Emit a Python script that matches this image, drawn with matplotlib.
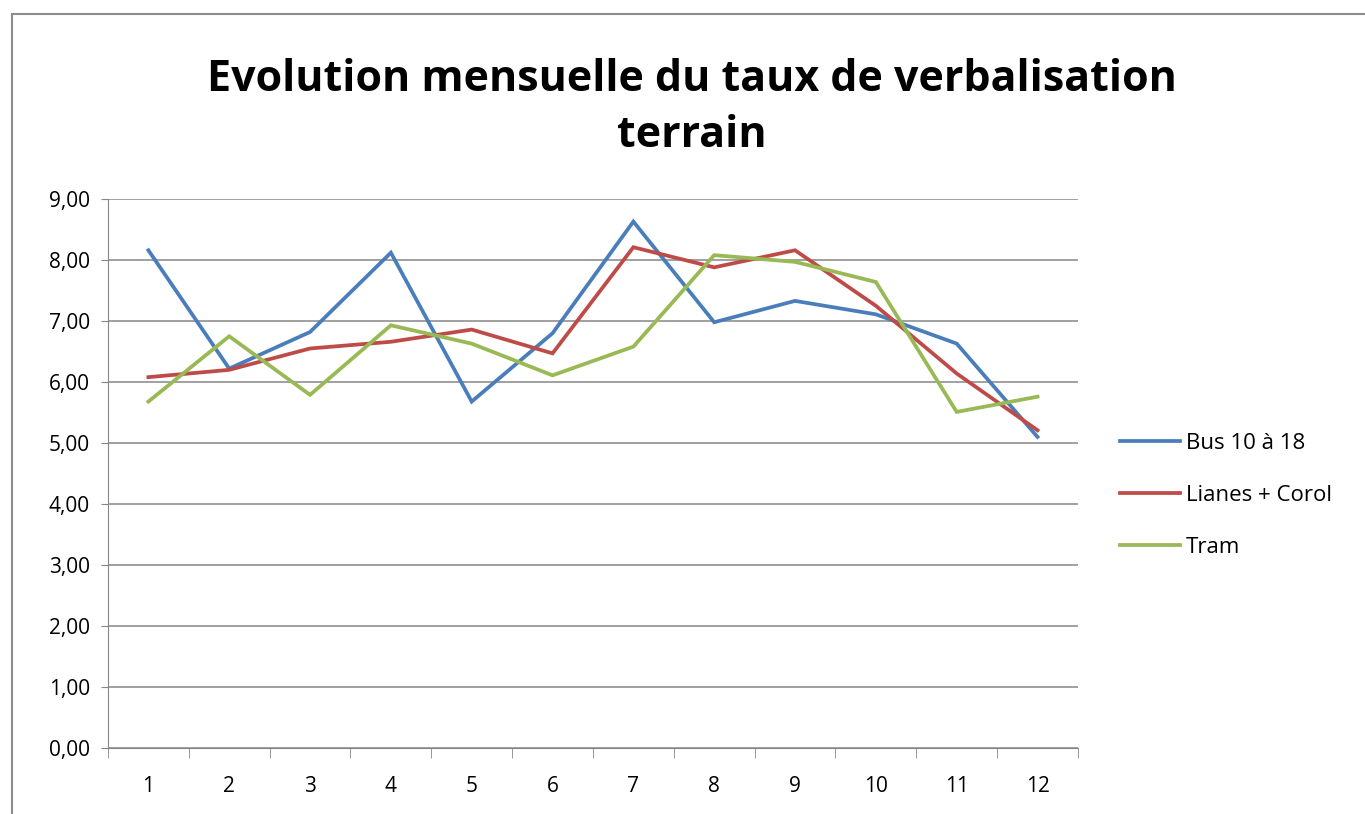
import numpy as np
import matplotlib.pyplot as plt
from matplotlib.patches import Rectangle

plt.rcParams['font.family'] = ['Open Sans', 'DejaVu Sans']

mois = [1, 2, 3, 4, 5, 6, 7, 8, 9, 10, 11, 12]
bus = [8.16, 6.22, 6.82, 8.12, 5.68, 6.80, 8.63, 6.98, 7.33, 7.11, 6.63, 5.10]
lianes = [6.08, 6.20, 6.55, 6.66, 6.86, 6.47, 8.21, 7.88, 8.16, 7.25, 6.14, 5.21]
tram = [5.68, 6.75, 5.79, 6.93, 6.63, 6.11, 6.58, 8.08, 7.97, 7.64, 5.51, 5.76]
noms = ['Bus 10 à 18', 'Lianes + Corol', 'Tram']
couleurs = ['#4A7EBB', '#BE4B48', '#98B954']
y_ticks = [0, 1, 2, 3, 4, 5, 6, 7, 8, 9]

fig = plt.figure(figsize=(13.65, 8.14), dpi=100)
ax = fig.add_axes([0.0791, 0.081, 0.7106, 0.6745])

# cadre du graphique
fig.patches.append(Rectangle((12/1365, -0.05), 1.1, 1 - 14/814 + 0.05,
                             transform=fig.transFigure, fill=False,
                             edgecolor='#8c8c8c', linewidth=1.5))

for serie, nom, c in zip([bus, lianes, tram], noms, couleurs):
    ax.plot(mois, serie, color=c, linewidth=2.7, label=nom, solid_joinstyle='miter')

ax.set_xlim(0.5, 12.5)
ax.set_ylim(0, 9)
ax.set_yticks(y_ticks)
ax.yaxis.set_major_formatter(plt.FuncFormatter(lambda v, p: ('%.2f' % v).replace('.', ',')))
ax.set_xticks(mois)
ax.set_xticklabels([str(m) for m in mois])
ax.set_xticks(np.arange(0.5, 13, 1), minor=True)
ax.tick_params(labelsize=15)
ax.tick_params(axis='x', which='major', length=0, pad=20)
ax.tick_params(axis='x', which='minor', length=7, color='#868686', direction='out')
ax.tick_params(axis='y', length=5, color='#868686', pad=8)
ax.grid(axis='y', color='#868686', linewidth=1.1)
ax.set_axisbelow(True)
for s in ['top', 'right']:
    ax.spines[s].set_visible(False)
ax.spines['left'].set_color('#868686')
ax.spines['bottom'].set_color('#868686')

fig.text(0.507, 0.868, 'Evolution mensuelle du taux de verbalisation\nterrain',
         ha='center', va='center', fontsize=31, fontweight='bold', linespacing=1.42)

leg = ax.legend(loc='center left', bbox_to_anchor=(1.023, 0.46), frameon=False,
                fontsize=16, handlelength=2.7, handletextpad=0.25, labelspacing=1.4)

fig.savefig('out.png', dpi=100)
